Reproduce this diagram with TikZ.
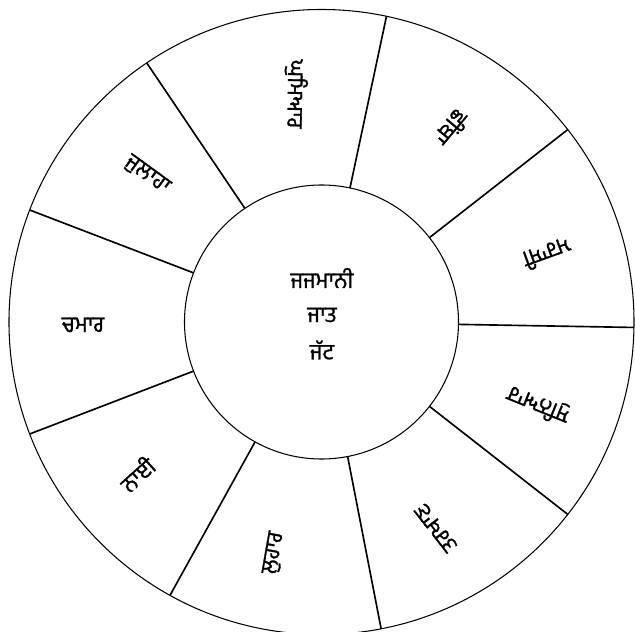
\documentclass[tikz,border=0pt]{standalone}
\usepackage{fontspec}
\newfontfamily\gurmukhi[Script=Gurmukhi,AutoFakeBold=1.2]{Hind Jalandhar}
\usetikzlibrary{calc}

\begin{document}
\begin{tikzpicture}[x=0.03cm,y=0.03cm,
  ring/.style={circle,draw,line width=0.9pt,inner sep=0pt,outer sep=0pt},
  spoke/.style={line width=1.4pt},
  caste/.style={font=\gurmukhi\bfseries\fontsize{19}{21}\selectfont,inner sep=0pt}]
  \useasboundingbox (0,0) rectangle (635,631);
  \coordinate (c) at (321.5,309);
  % outer and inner ring
  \node[ring,minimum size=18.75cm] (rim) at (c) {};
  \node[ring,minimum size=8.22cm] (hub) at (c) {};
  % spokes
  \foreach \a in {124.4,78.2,38.3,-1.1,-38.8,-79.5,-119.5,-159.7,159}
    \draw[spoke] (hub.\a) -- (rim.\a);
  % jajman in the middle
  \node[caste] (jajmani) at (322,353) {ਜਜਮਾਨੀ};
  \node[caste] (jaat) at (322,316) {ਜਾਤ};
  \node[caste] (jatt) at (322,281) {ਜੱਟ};
  % kamin castes
  \foreach \n/\x/\y/\r/\t in {
      ghumiar/296/537/-91/ਘੁਮਿਆਰ,
      chhimba/452/503/-130/ਛੀਂਬਾ,
      marasi/547/377/-160/ਮਰਾਸੀ,
      suniar/538/226/158/ਸੁਨਿਆਰ,
      tarkhan/436/103/128/ਤਰਖਾਣ,
      luhar/274/78/80/ਲੁਹਾਰ,
      nai/137/157/42/ਨਾਈ,
      chamar/83/306/0/ਚਮਾਰ,
      julaha/147/456/-36/ਜੁਲਾਹਾ}
    \node[caste,rotate=\r] (\n) at (\x,\y) {\t};
\end{tikzpicture}
\end{document}
